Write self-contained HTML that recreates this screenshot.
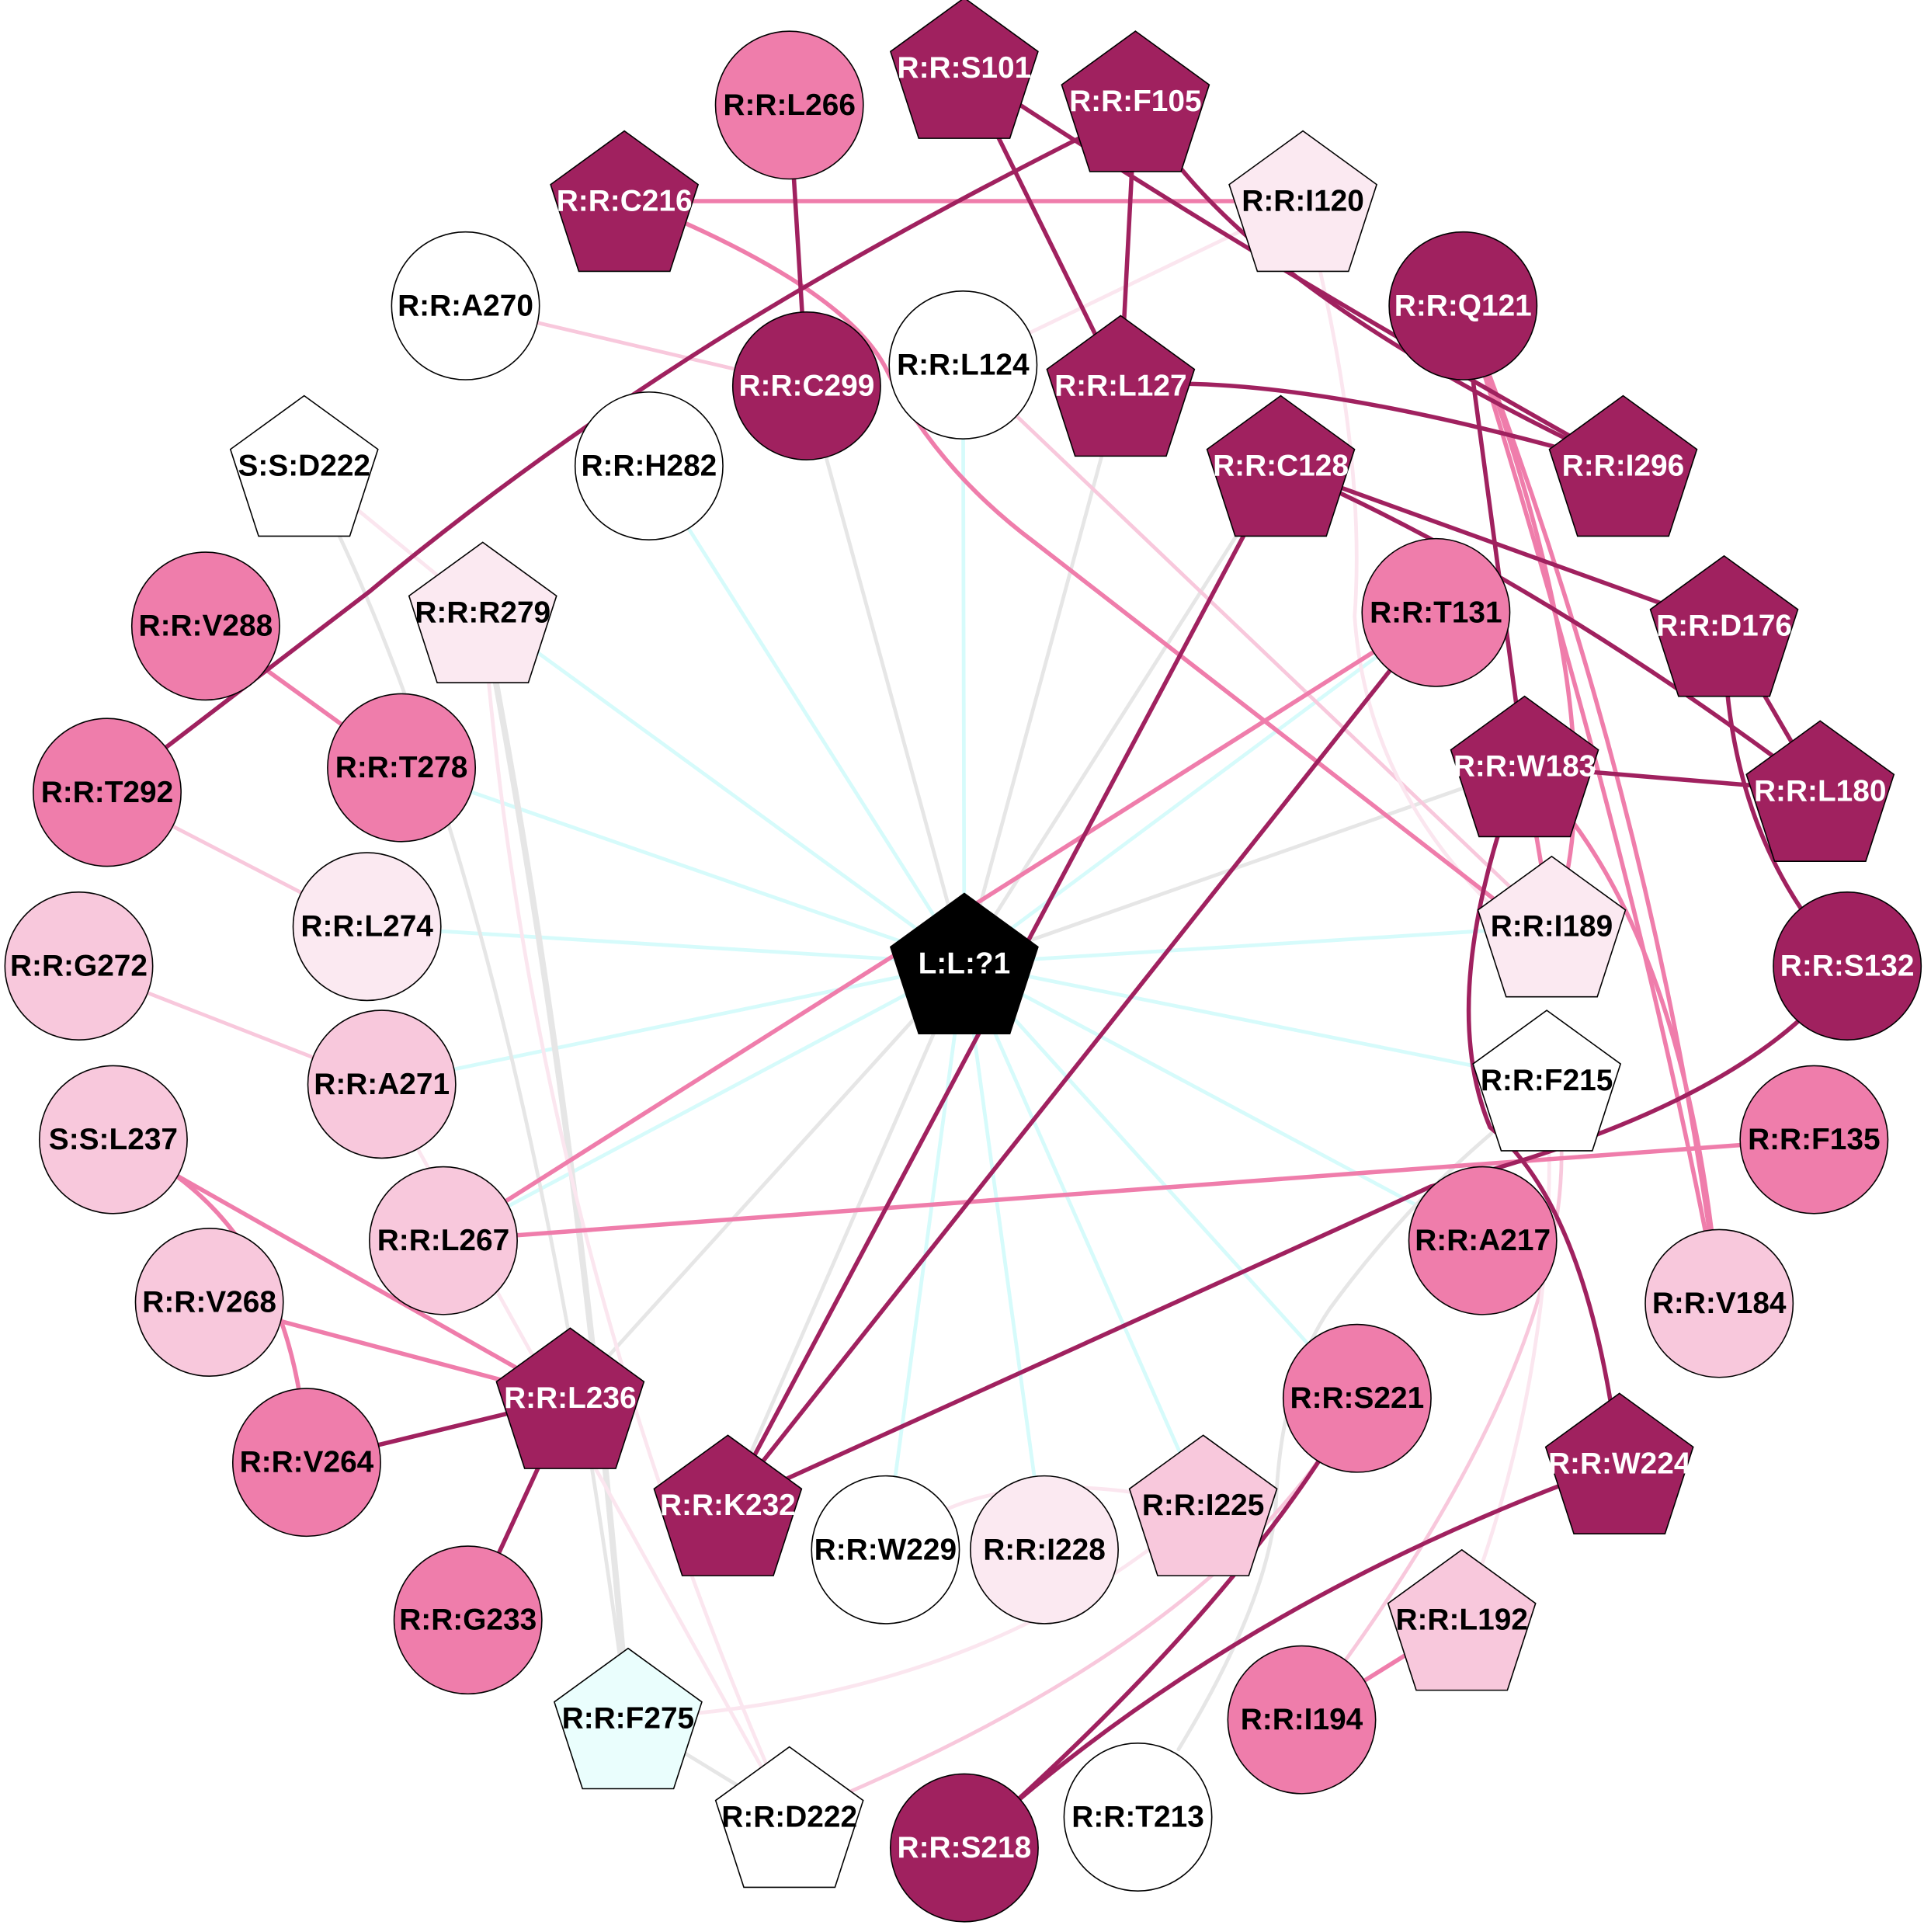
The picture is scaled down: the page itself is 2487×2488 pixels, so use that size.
<!DOCTYPE html>
<html><head><meta charset="utf-8"><style>html,body{margin:0;padding:0;background:#fff}svg{display:block}</style></head>
<body>
<svg width="2487" height="2488" viewBox="0 0 1568 1568" xmlns="http://www.w3.org/2000/svg" font-family="Liberation Sans, Arial, sans-serif" font-weight="bold" font-size="24.5">
<g fill="none" stroke-linecap="round">
<g stroke="#d6fbfb" stroke-width="3">
<line x1="783" y1="782" x2="527" y2="378"/>
<line x1="783" y1="782" x2="392" y2="497"/>
<line x1="783" y1="782" x2="326" y2="623"/>
<line x1="783" y1="782" x2="298" y2="752"/>
<line x1="783" y1="782" x2="310" y2="880"/>
<line x1="783" y1="782" x2="360" y2="1007"/>
<line x1="783" y1="782" x2="719" y2="1258"/>
<line x1="783" y1="782" x2="848" y2="1258"/>
<line x1="783" y1="782" x2="977" y2="1222"/>
<line x1="783" y1="782" x2="782" y2="296"/>
<line x1="783" y1="782" x2="1166" y2="497"/>
<line x1="783" y1="782" x2="1260" y2="752"/>
<line x1="783" y1="782" x2="1256" y2="877"/>
<line x1="783" y1="782" x2="1204" y2="1007"/>
<line x1="783" y1="782" x2="1102" y2="1135"/>
</g>
<g stroke="#e6e6e6" stroke-width="3">
<line x1="783" y1="782" x2="655" y2="313"/>
<line x1="783" y1="782" x2="910" y2="313"/>
<line x1="783" y1="782" x2="1040" y2="378"/>
<line x1="783" y1="782" x2="1238" y2="622"/>
<line x1="783" y1="782" x2="463" y2="1135"/>
<line x1="783" y1="782" x2="591" y2="1222"/>
<path d="M247 378 Q420 700 510 1395"/>
<path d="M392 497 Q470 900 510 1395" stroke-width="5"/>
<path d="M510 1395 L641 1475"/>
<path d="M957 1420 Q1030 1300 1036 1222 Q1040 1120 1080 1062 Q1140 980 1211 920"/>
</g>
<g stroke="#f8c8dc" stroke-width="3">
<line x1="378" y1="248" x2="655" y2="313"/>
<line x1="782" y1="296" x2="1260" y2="752"/>
<line x1="87" y1="643" x2="298" y2="752"/>
<line x1="64" y1="784" x2="310" y2="880"/>
<path d="M1268 933 Q1270 1100 1093 1347 L1057 1396"/>
<path d="M1102 1135 Q1000 1330 641 1475"/>
</g>
<g stroke="#fbe6ef" stroke-width="3">
<line x1="1058" y1="163" x2="782" y2="296"/>
<path d="M1058 163 Q1110 360 1100 500 Q1110 650 1238 760"/>
<line x1="247" y1="378" x2="392" y2="497"/>
<line x1="310" y1="880" x2="641" y2="1475"/>
<path d="M719 1258 Q800 1180 977 1222"/>
<path d="M977 1222 Q800 1380 510 1395"/>
<path d="M1256 877 Q1270 1100 1187 1315"/>
<path d="M392 497 Q430 1000 641 1475"/>
</g>
<g stroke="#ef7dab" stroke-width="3.5">
<line x1="507" y1="163" x2="1058" y2="163"/>
<path d="M550 178 Q690 240 720 300 Q760 380 840 440 L1220 735"/>
<line x1="167" y1="508" x2="326" y2="623"/>
<line x1="1166" y1="497" x2="360" y2="1007"/>
<line x1="360" y1="1007" x2="1473" y2="925"/>
<line x1="92" y1="925" x2="463" y2="1135"/>
<path d="M92 925 Q240 990 249 1187"/>
<line x1="170" y1="1057" x2="463" y2="1135"/>
<line x1="1187" y1="1315" x2="1057" y2="1396"/>
<path d="M1188 248 Q1320 600 1260 752"/>
<path d="M1188 248 Q1330 700 1396 1058"/>
<path d="M1188 248 Q1345 650 1396 1058"/>
<path d="M1238 622 Q1370 750 1396 1058"/>
<line x1="1238" y1="622" x2="1260" y2="752"/>
</g>
<g stroke="#a0215f" stroke-width="3.5">
<path d="M87 643 L300 480 Q420 380 560 290 Q700 200 900 100"/>
<line x1="783" y1="55" x2="910" y2="313"/>
<path d="M783 55 Q1000 200 1318 378"/>
<path d="M922 82 Q1000 230 1318 378"/>
<line x1="922" y1="82" x2="910" y2="313"/>
<line x1="641" y1="85" x2="655" y2="313"/>
<path d="M910 313 Q1050 300 1318 378"/>
<line x1="1188" y1="248" x2="1238" y2="622"/>
<line x1="1040" y1="378" x2="1400" y2="508"/>
<path d="M1040 378 Q1250 470 1478 642"/>
<line x1="1040" y1="378" x2="591" y2="1222"/>
<line x1="1166" y1="497" x2="591" y2="1222"/>
<line x1="1400" y1="508" x2="1478" y2="642"/>
<path d="M1400 508 Q1400 680 1500 784"/>
<line x1="1238" y1="622" x2="1478" y2="642"/>
<path d="M1222 660 Q1170 820 1210 915 Q1290 980 1315 1188"/>
<path d="M1460 829 C1380 900 1250 940 1162 963 L591 1222"/>
<path d="M1315 1188 Q1000 1300 783 1500"/>
<path d="M1102 1135 Q1010 1300 783 1500"/>
<line x1="463" y1="1135" x2="249" y2="1187"/>
<line x1="463" y1="1135" x2="380" y2="1315"/>
</g>
</g>
<defs>
<polygon id="pg" points="0,-63 59.9,-19.5 37,51 -37,51 -59.9,-19.5"/>
</defs>
<g stroke="#000" stroke-width="1">
<circle cx="641" cy="85" r="60" fill="#ef7dab"/>
<circle cx="378" cy="248" r="60" fill="#fff"/>
<circle cx="1188" cy="248" r="60" fill="#a0215f"/>
<circle cx="655" cy="313" r="60" fill="#a0215f"/>
<circle cx="782" cy="296" r="60" fill="#fff"/>
<circle cx="527" cy="378" r="60" fill="#fff"/>
<circle cx="167" cy="508" r="60" fill="#ef7dab"/>
<circle cx="1166" cy="497" r="60" fill="#ef7dab"/>
<circle cx="326" cy="623" r="60" fill="#ef7dab"/>
<circle cx="87" cy="643" r="60" fill="#ef7dab"/>
<circle cx="298" cy="752" r="60" fill="#fbe9f1"/>
<circle cx="64" cy="784" r="60" fill="#f8c8dc"/>
<circle cx="1500" cy="784" r="60" fill="#a0215f"/>
<circle cx="310" cy="880" r="60" fill="#f8c8dc"/>
<circle cx="92" cy="925" r="60" fill="#f8c8dc"/>
<circle cx="1473" cy="925" r="60" fill="#ef7dab"/>
<circle cx="360" cy="1007" r="60" fill="#f8c8dc"/>
<circle cx="1204" cy="1007" r="60" fill="#ef7dab"/>
<circle cx="170" cy="1057" r="60" fill="#f8c8dc"/>
<circle cx="1396" cy="1058" r="60" fill="#f8c8dc"/>
<circle cx="1102" cy="1135" r="60" fill="#ef7dab"/>
<circle cx="249" cy="1187" r="60" fill="#ef7dab"/>
<circle cx="719" cy="1258" r="60" fill="#fff"/>
<circle cx="848" cy="1258" r="60" fill="#fbe9f1"/>
<circle cx="380" cy="1315" r="60" fill="#ef7dab"/>
<circle cx="1057" cy="1396" r="60" fill="#ef7dab"/>
<circle cx="783" cy="1500" r="60" fill="#a0215f"/>
<circle cx="924" cy="1475" r="60" fill="#fff"/>
<use href="#pg" x="783" y="61" fill="#a0215f"/>
<use href="#pg" x="922" y="88" fill="#a0215f"/>
<use href="#pg" x="507" y="169" fill="#a0215f"/>
<use href="#pg" x="1058" y="169" fill="#fbe9f1"/>
<use href="#pg" x="910" y="319" fill="#a0215f"/>
<use href="#pg" x="1318" y="384" fill="#a0215f"/>
<use href="#pg" x="247" y="384" fill="#fff"/>
<use href="#pg" x="1040" y="384" fill="#a0215f"/>
<use href="#pg" x="392" y="503" fill="#fbe9f1"/>
<use href="#pg" x="1400" y="514" fill="#a0215f"/>
<use href="#pg" x="1238" y="628" fill="#a0215f"/>
<use href="#pg" x="1478" y="648" fill="#a0215f"/>
<use href="#pg" x="1260" y="758" fill="#fbe9f1"/>
<use href="#pg" x="783" y="788" fill="#000"/>
<use href="#pg" x="1256" y="883" fill="#fff"/>
<use href="#pg" x="463" y="1141" fill="#a0215f"/>
<use href="#pg" x="1315" y="1194" fill="#a0215f"/>
<use href="#pg" x="591" y="1228" fill="#a0215f"/>
<use href="#pg" x="977" y="1228" fill="#f8c8dc"/>
<use href="#pg" x="1187" y="1321" fill="#f8c8dc"/>
<use href="#pg" x="510" y="1401" fill="#eafefd"/>
<use href="#pg" x="641" y="1481" fill="#fff"/>
</g>
<g text-anchor="middle" dominant-baseline="central">
<g fill="#000">
<text x="641" y="85">R:R:L266</text>
<text x="378" y="248">R:R:A270</text>
<text x="782" y="296">R:R:L124</text>
<text x="527" y="378">R:R:H282</text>
<text x="167" y="508">R:R:V288</text>
<text x="1166" y="497">R:R:T131</text>
<text x="326" y="623">R:R:T278</text>
<text x="87" y="643">R:R:T292</text>
<text x="298" y="752">R:R:L274</text>
<text x="64" y="784">R:R:G272</text>
<text x="310" y="880">R:R:A271</text>
<text x="92" y="925">S:S:L237</text>
<text x="1473" y="925">R:R:F135</text>
<text x="360" y="1007">R:R:L267</text>
<text x="1204" y="1007">R:R:A217</text>
<text x="170" y="1057">R:R:V268</text>
<text x="1396" y="1058">R:R:V184</text>
<text x="1102" y="1135">R:R:S221</text>
<text x="249" y="1187">R:R:V264</text>
<text x="719" y="1258">R:R:W229</text>
<text x="848" y="1258">R:R:I228</text>
<text x="380" y="1315">R:R:G233</text>
<text x="1057" y="1396">R:R:I194</text>
<text x="924" y="1475">R:R:T213</text>
<text x="1058" y="163">R:R:I120</text>
<text x="247" y="378">S:S:D222</text>
<text x="392" y="497">R:R:R279</text>
<text x="1260" y="752">R:R:I189</text>
<text x="1256" y="877">R:R:F215</text>
<text x="977" y="1222">R:R:I225</text>
<text x="1187" y="1315">R:R:L192</text>
<text x="510" y="1395">R:R:F275</text>
<text x="641" y="1475">R:R:D222</text>
</g>
<g fill="#fff">
<text x="1188" y="248">R:R:Q121</text>
<text x="655" y="313">R:R:C299</text>
<text x="1500" y="784">R:R:S132</text>
<text x="783" y="1500">R:R:S218</text>
<text x="783" y="55">R:R:S101</text>
<text x="922" y="82">R:R:F105</text>
<text x="507" y="163">R:R:C216</text>
<text x="910" y="313">R:R:L127</text>
<text x="1318" y="378">R:R:I296</text>
<text x="1040" y="378">R:R:C128</text>
<text x="1400" y="508">R:R:D176</text>
<text x="1238" y="622">R:R:W183</text>
<text x="1478" y="642">R:R:L180</text>
<text x="783" y="782">L:L:?1</text>
<text x="463" y="1135">R:R:L236</text>
<text x="1315" y="1188">R:R:W224</text>
<text x="591" y="1222">R:R:K232</text>
</g>
</g>
</svg>
</body></html>
